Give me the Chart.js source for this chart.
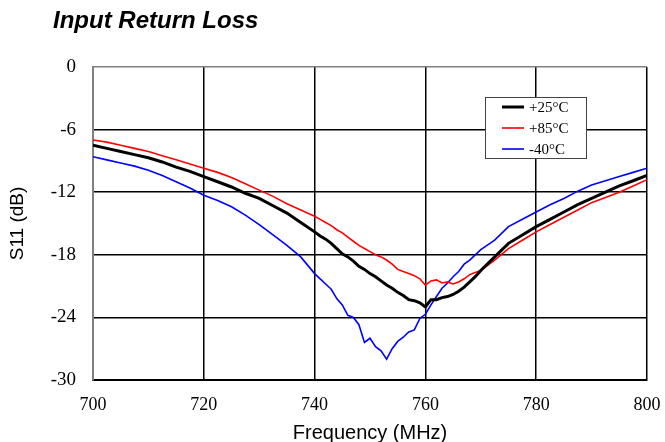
<!DOCTYPE html>
<html>
<head>
<meta charset="utf-8">
<script src="https://cdn.jsdelivr.net/npm/chart.js@4"></script>
<style>html,body{margin:0;padding:0;background:#fff}</style>
</head>
<body>
<canvas id="chart" width="665" height="442"></canvas>
<script>
// frequency points (MHz) shared by all three sweeps, finer around the dip
var freqMHz = [700, 702.5, 705, 707.5, 710, 712.5, 715, 717.5, 720, 722.5,
    725, 727.5, 730, 732.5, 735, 737.5, 740,
    741, 742, 743, 744, 745, 746, 747, 748, 749, 750,
    751, 752, 753, 754, 755, 756, 757, 758, 759, 760,
    761, 762, 763, 764, 765, 766, 767, 768, 769, 770,
    772.5, 775, 777.5, 780, 782.5, 785, 787.5, 790, 792.5, 795, 797.5, 800];

// S11 in dB
var s11At25 = [-7.5, -7.8, -8.1, -8.4, -8.7, -9.1, -9.6, -10.0, -10.5, -11.0,
    -11.5, -12.1, -12.6, -13.3, -14.0, -14.9, -15.8,
    -16.2, -16.5, -16.9, -17.4, -17.9, -18.2, -18.6, -19.1, -19.4, -19.8,
    -20.1, -20.5, -20.9, -21.2, -21.6, -21.9, -22.3, -22.4, -22.6, -23.0,
    -22.3, -22.3, -22.1, -22.0, -21.8, -21.5, -21.1, -20.6, -20.1, -19.5,
    -18.2, -16.9, -16.1, -15.3, -14.6, -13.9, -13.2, -12.6, -12.0, -11.4, -10.9, -10.4];
var s11At85 = [-7.0, -7.2, -7.5, -7.8, -8.1, -8.5, -8.9, -9.3, -9.7, -10.1,
    -10.6, -11.2, -11.8, -12.4, -13.1, -13.7, -14.3,
    -14.6, -14.9, -15.2, -15.6, -15.9, -16.3, -16.7, -17.1, -17.4, -17.7,
    -18.0, -18.2, -18.5, -18.9, -19.4, -19.6, -19.8, -20.0, -20.3, -20.9,
    -20.5, -20.4, -20.7, -20.6, -20.8, -20.6, -20.3, -19.9, -19.7, -19.5,
    -18.5, -17.4, -16.6, -15.8, -15.1, -14.4, -13.7, -13.0, -12.5, -12.0, -11.4, -10.8];
var s11AtMinus40 = [-8.6, -8.9, -9.2, -9.5, -9.9, -10.4, -11.0, -11.6, -12.3, -12.8,
    -13.4, -14.2, -15.1, -16.1, -17.1, -18.2, -19.8,
    -20.3, -20.8, -21.3, -22.2, -22.8, -23.8, -24.0, -24.7, -26.4, -26.0,
    -26.8, -27.2, -28.0, -27.0, -26.3, -25.9, -25.4, -25.2, -24.1, -23.7,
    -22.8, -22.0, -21.2, -20.7, -20.1, -19.6, -18.9, -18.5, -18.0, -17.5,
    -16.6, -15.3, -14.6, -13.9, -13.2, -12.6, -11.9, -11.3, -10.9, -10.5, -10.1, -9.7];

var seriesLabels = ['+25°C', '+85°C', '-40°C'];
var seriesColors = ['#000000', '#ff0000', '#0000ff'];
var seriesWidths = [3, 1.6, 1.6];
var xTicks = [700, 720, 740, 760, 780, 800];
var yTicks = [0, -6, -12, -18, -24, -30];

function toPoints(values) {
    return values.map(function (v, i) { return { x: freqMHz[i], y: v }; });
}

// chart title and boxed legend drawn on the canvas
var overlay = {
    id: 'overlay',
    afterDraw: function (chart) {
        var c = chart.ctx;
        c.save();
        c.fillStyle = '#000';
        c.font = 'italic bold 24px "Liberation Sans", Arial, sans-serif';
        c.textBaseline = 'alphabetic';
        c.textAlign = 'left';
        c.fillText('Input Return Loss', 53, 28);

        var bx = 485, by = 97, bw = 101, bh = 61;
        c.fillStyle = '#fff';
        c.fillRect(bx, by, bw, bh);
        c.strokeStyle = '#444';
        c.lineWidth = 1;
        c.strokeRect(bx + 0.5, by + 0.5, bw, bh);
        chart.data.datasets.forEach(function (ds, i) {
            var y = 107 + i * 21;
            c.strokeStyle = ds.borderColor;
            c.lineWidth = ds.borderWidth;
            c.beginPath();
            c.moveTo(502, y);
            c.lineTo(524, y);
            c.stroke();
            c.fillStyle = '#000';
            c.font = '15px "Liberation Serif", "Times New Roman", serif';
            c.textBaseline = 'middle';
            c.fillText(ds.label, 529, y + 1);
        });
        c.restore();
    }
};

var ctx = document.getElementById('chart').getContext('2d');
var chart = new Chart(ctx, {
    type: 'line',
    data: {
        datasets: [s11At25, s11At85, s11AtMinus40].map(function (vals, i) {
            return {
                label: seriesLabels[i],
                data: toPoints(vals),
                borderColor: seriesColors[i],
                backgroundColor: seriesColors[i],
                borderWidth: seriesWidths[i],
                pointRadius: 0,
                tension: 0,
                fill: false
            };
        })
    },
    plugins: [overlay],
    options: {
        responsive: false,
        animation: false,
        layout: { padding: { top: 67, right: 0, bottom: 0, left: 0 } },
        plugins: {
            legend: { display: false },
            title: { display: false },
            tooltip: { enabled: false }
        },
        scales: {
            x: {
                type: 'linear',
                min: 700,
                max: 800,
                afterBuildTicks: function (scale) {
                    scale.ticks = xTicks.map(function (v) { return { value: v }; });
                },
                afterFit: function (scale) {
                    scale.height = 62;
                    scale.paddingLeft = 0;
                    scale.paddingRight = 18;
                },
                ticks: {
                    color: '#000',
                    padding: 14,
                    maxRotation: 0,
                    font: { family: '"Liberation Serif", "Times New Roman", serif', size: 18 }
                },
                grid: { color: '#000', lineWidth: 1.5, drawTicks: false },
                border: { color: '#000', width: 2 },
                title: {
                    display: true,
                    text: 'Frequency (MHz)',
                    color: '#000',
                    padding: { top: 0, bottom: 0 },
                    font: { family: '"Liberation Sans", Arial, sans-serif', size: 20, lineHeight: 0.85 }
                }
            },
            y: {
                min: -30,
                max: 0,
                afterBuildTicks: function (scale) {
                    scale.ticks = yTicks.map(function (v) { return { value: v }; });
                },
                afterFit: function (scale) { scale.width = 93; },
                ticks: {
                    color: '#000',
                    padding: 17,
                    font: { family: '"Liberation Serif", "Times New Roman", serif', size: 19 }
                },
                grid: {
                    color: function (c) { return c.tick && c.tick.value === 0 ? '#808080' : '#000'; },
                    lineWidth: 1.5,
                    drawTicks: false
                },
                border: { color: '#808080', width: 2 },
                title: {
                    display: true,
                    text: 'S11 (dB)',
                    color: '#000',
                    padding: { top: 6, bottom: 0 },
                    font: { family: '"Liberation Sans", Arial, sans-serif', size: 19 }
                }
            }
        }
    }
});
</script>
</body>
</html>
